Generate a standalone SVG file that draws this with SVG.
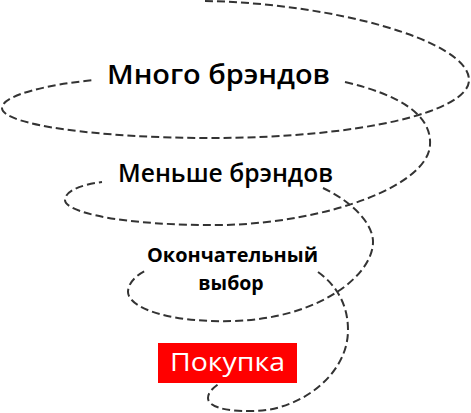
<svg xmlns="http://www.w3.org/2000/svg" width="471" height="413" viewBox="0 0 471 413">
<style>
.c{fill:none;stroke:#333;stroke-width:2;stroke-dasharray:8 4}
.t{font-family:"Open Sans","Liberation Sans",sans-serif;fill:#000;text-anchor:middle}
</style>
<rect width="471" height="413" fill="#fff"/>
<g id="connectors">
<path class="c" d="M205,1 C330,3 469,40 469,80 C469,112 360,138 210,138 C100,138 2,125 2,108 C2,95 50,84 95,80"/>
<path class="c" d="M345,82 C400,95 432,115 430,145 C428,185 330,222 225,225 C120,226 65,212 65,200 C65,190 85,184 102,182"/>
<path class="c" d="M323,188 C345,198 373,220 373,242 C373,275 320,318 235,321 C160,323 128,305 128,292 C128,282 138,274 147,270"/>
<path class="c" d="M318,272 C332,282 348,300 348,330 C348,375 300,410 255,411 C220,412 208,405 208,398 C208,392 214,387 220,383"/>
</g>
<g id="many">
<text class="t" x="218.5" y="84" font-size="27" font-weight="600" textLength="223" lengthAdjust="spacingAndGlyphs">Много брэндов</text>
</g>
<g id="fewer">
<text class="t" x="225.5" y="182" font-size="25" font-weight="600" textLength="215" lengthAdjust="spacingAndGlyphs">Меньше брэндов</text>
</g>
<g id="final">
<text class="t" x="232.5" y="262" font-size="19.5" font-weight="bold" textLength="171" lengthAdjust="spacingAndGlyphs">Окончательный</text>
<text class="t" x="231" y="290" font-size="19.5" font-weight="bold">выбор</text>
</g>
<g id="purchase">
<rect x="158" y="343" width="139" height="40" fill="#ff0000"/>
<text class="t" x="227.5" y="371" font-size="25" textLength="115" lengthAdjust="spacingAndGlyphs" style="fill:#fff">Покупка</text>
</g>
</svg>
